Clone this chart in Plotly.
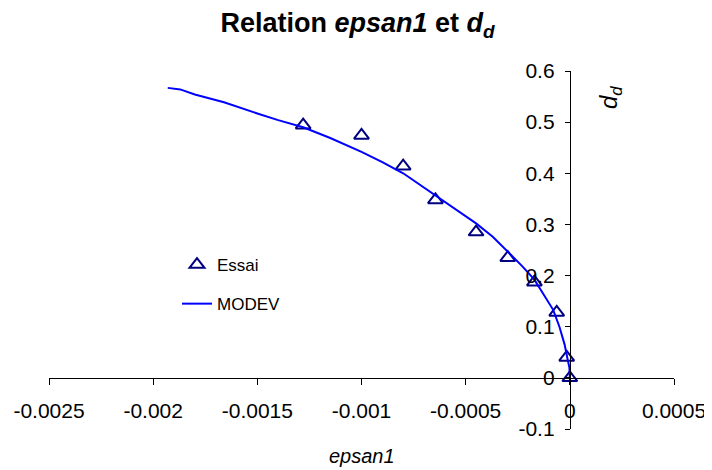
import plotly.graph_objects as go

# Essai (measured points)
essai_x = [-0.00128, -0.00100, -0.00080, -0.000645, -0.00045, -0.000298, -0.00017, -0.000063, -0.000015, 0.0]
essai_y = [0.494, 0.474, 0.414, 0.348, 0.285, 0.235, 0.187, 0.128, 0.040, 0.0]

# MODEV (model curve)
modev_x = [-0.00193, -0.00187, -0.00180, -0.00166, -0.00150, -0.00140, -0.00128, -0.00115, -0.00100,
           -0.00090, -0.00080, -0.00070, -0.000645, -0.00055, -0.00045, -0.00037, -0.00030,
           -0.00023, -0.00017, -0.00012, -0.00008, -0.00005, -0.000025, -0.00001, -0.000002, 0.0]
modev_y = [0.567, 0.564, 0.554, 0.539, 0.517, 0.504, 0.490, 0.469, 0.442,
           0.422, 0.400, 0.372, 0.357, 0.331, 0.302, 0.276, 0.247,
           0.219, 0.192, 0.160, 0.133, 0.100, 0.065, 0.035, 0.020, 0.0]

x_tickvals = [-0.0025, -0.002, -0.0015, -0.001, -0.0005, 0, 0.0005]
x_ticktext = ["-0.0025", "-0.002", "-0.0015", "-0.001", "-0.0005", "0", "0.0005"]
y_tickvals = [-0.1, 0, 0.1, 0.2, 0.3, 0.4, 0.5, 0.6]
y_ticktext = ["-0.1", "0", "0.1", "0.2", "0.3", "0.4", "0.5", "0.6"]

FONT = "Liberation Sans, Arial, sans-serif"

# page body has an 8px margin, so the figure is sized to fit the 712x470 window
W, H = 704, 462
ML, MR, MT, MB = 41, 38, 63, 41
PW, PH = W - ML - MR, H - MT - MB

fig = go.Figure()
fig.add_trace(go.Scatter(
    x=essai_x, y=essai_y, mode="markers", name="Essai", legendgroup="a",
    marker=dict(symbol="triangle-up-open", size=13, color="#000080",
                line=dict(width=2, color="#000080")),
))
fig.add_trace(go.Scatter(
    x=modev_x, y=modev_y, mode="lines", name="MODEV", legendgroup="b",
    line=dict(color="#0000FF", width=2),
))

fig.update_layout(
    width=W, height=H,
    margin=dict(l=ML, r=MR, t=MT, b=MB, autoexpand=False),
    paper_bgcolor="white", plot_bgcolor="white",
    font=dict(family=FONT, color="black", size=21),
    title=dict(text="<b>Relation <i>epsan1</i> et <i>d<sub>d</sub></i></b>",
               x=349.5 / W, xref="container", xanchor="center",
               y=1 - 15 / H, yref="container", yanchor="middle",
               font=dict(family=FONT, size=27, color="black")),
    showlegend=True,
    legend=dict(x=(169 - ML) / PW, xanchor="left", y=(PH + MT - 239) / PH, yanchor="top",
                bgcolor="rgba(0,0,0,0)", borderwidth=0,
                font=dict(family=FONT, size=17, color="black"),
                traceorder="grouped", tracegroupgap=14),
    xaxis=dict(range=[-0.0025, 0.0005], tickvals=x_tickvals, ticktext=x_ticktext,
               showgrid=False, zeroline=False, showline=True, linecolor="black", linewidth=1,
               ticks="outside", ticklen=6, tickcolor="black", tickwidth=1,
               anchor="free", position=1 / 7, ticklabelstandoff=8, automargin=False,
               tickfont=dict(family=FONT, size=21, color="black")),
    yaxis=dict(range=[-0.1, 0.6], tickvals=y_tickvals, ticktext=y_ticktext,
               showgrid=False, zeroline=False, showline=True, linecolor="black", linewidth=1,
               ticks="outside", ticklen=5, tickcolor="black", tickwidth=1,
               anchor="free", position=5 / 6, side="left", ticklabelstandoff=6, automargin=False,
               tickfont=dict(family=FONT, size=21, color="black")),
    annotations=[
        dict(text="<i>epsan1</i>", xref="paper", yref="paper", x=0.5, y=-27 / PH,
             xanchor="center", yanchor="middle", showarrow=False,
             font=dict(family=FONT, size=20, color="black")),
        dict(text="<i>d<sub>d</sub></i>", xref="paper", yref="paper", x=(602 - ML) / PW,
             y=(PH + MT - 90) / PH, xanchor="center", yanchor="middle", textangle=-90,
             showarrow=False, font=dict(family=FONT, size=24, color="black")),
    ],
)

fig.write_html("out.html")
